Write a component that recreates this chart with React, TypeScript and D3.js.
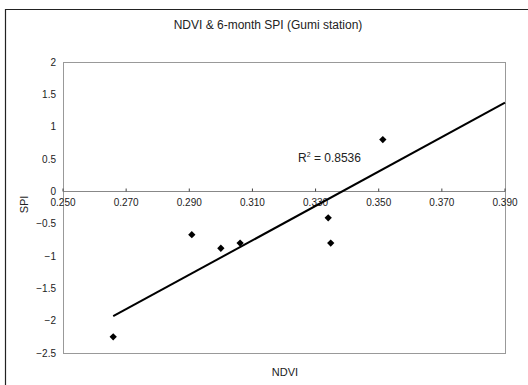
import { useRef, useEffect } from 'react'
import * as d3 from 'd3'

// NDVI vs 6-month SPI, Gumi station
const ndvi = [0.2659, 0.2908, 0.300, 0.3061, 0.334, 0.3348, 0.3513]
const spi = [-2.25, -0.67, -0.88, -0.80, -0.41, -0.80, 0.80]
const xTicks = [0.25, 0.27, 0.29, 0.31, 0.33, 0.35, 0.37, 0.39]
const yTicks = [2, 1.5, 1, 0.5, 0, -0.5, -1, -1.5, -2, -2.5]
// linear trendline as shown in the figure
const trendSlope = 26.6
const trendIntercept = -9.004
const rSquared = '0.8536'

const FONT = 'Liberation Sans, Arial, sans-serif'

export default function App() {
  const svgRef = useRef<SVGSVGElement>(null)

  useEffect(() => {
    if (!svgRef.current) return
    const svg = d3.select(svgRef.current)
    svg.selectAll('*').remove()

    const width = 528
    const height = 385
    const plot = { left: 63, right: 505, top: 62, bottom: 353 }

    // outer chart frame
    svg.append('rect').attr('width', width).attr('height', height).attr('fill', '#fff')
    svg.append('path')
      .attr('d', `M5.5,${height} V9.5 H${width}`)
      .attr('fill', 'none').attr('stroke', '#222').attr('stroke-width', 1.2)

    const x = d3.scaleLinear().domain([0.25, 0.39]).range([plot.left, plot.right])
    const y = d3.scaleLinear().domain([-2.5, 2]).range([plot.bottom, plot.top])

    // plot area border
    svg.append('rect')
      .attr('x', plot.left + 0.5).attr('y', plot.top + 0.5)
      .attr('width', plot.right - plot.left).attr('height', plot.bottom - plot.top)
      .attr('fill', 'none').attr('stroke', '#999').attr('stroke-width', 1)

    // title
    svg.append('text')
      .attr('x', 268).attr('y', 29)
      .attr('text-anchor', 'middle')
      .style('font-family', FONT).style('font-size', '12px').style('fill', '#222')
      .text('NDVI & 6-month SPI (Gumi station)')

    // y axis labels
    svg.append('g').selectAll('text')
      .data(yTicks)
      .join('text')
      .attr('x', plot.left - 7)
      .attr('y', d => y(d) + 3.5)
      .attr('text-anchor', 'end')
      .style('font-family', FONT).style('font-size', '10px').style('fill', '#222')
      .text(d => String(d).replace('-', '\u2212'))

    // x axis on zero line
    const y0 = Math.round(y(0)) + 0.5
    svg.append('line')
      .attr('x1', plot.left).attr('x2', plot.right)
      .attr('y1', y0).attr('y2', y0)
      .attr('stroke', '#888').attr('stroke-width', 1)
    svg.append('g').selectAll('line')
      .data(xTicks)
      .join('line')
      .attr('x1', d => x(d)).attr('x2', d => x(d))
      .attr('y1', y0).attr('y2', y0 - 3)
      .attr('stroke', '#444')
    svg.append('g').selectAll('text')
      .data(xTicks)
      .join('text')
      .attr('x', d => x(d))
      .attr('y', y0 + 14)
      .attr('text-anchor', 'middle')
      .style('font-family', FONT).style('font-size', '10px').style('fill', '#222')
      .text(d => d3.format('.3f')(d))

    // axis titles
    svg.append('text')
      .attr('transform', `translate(28,${y0 + 13}) rotate(-90)`)
      .attr('text-anchor', 'middle')
      .style('font-family', FONT).style('font-size', '11px').style('fill', '#222')
      .text('SPI')
    svg.append('text')
      .attr('x', 285).attr('y', 376)
      .attr('text-anchor', 'middle')
      .style('font-family', FONT).style('font-size', '11px').style('fill', '#222')
      .text('NDVI')

    // trendline
    const x0 = d3.min(ndvi)!
    const x1 = 0.39
    svg.append('line')
      .attr('x1', x(x0)).attr('y1', y(trendSlope * x0 + trendIntercept))
      .attr('x2', x(x1)).attr('y2', y(trendSlope * x1 + trendIntercept))
      .attr('stroke', '#000').attr('stroke-width', 2)

    // points
    svg.append('g').selectAll('path')
      .data(ndvi.map((v, i) => ({ x: v, y: spi[i] })))
      .join('path')
      .attr('transform', d => `translate(${x(d.x)},${y(d.y)})`)
      .attr('d', d3.symbol(d3.symbolDiamond2, 34)())
      .attr('fill', '#000')

    // R squared label
    const r = svg.append('text')
      .attr('x', 298).attr('y', 162)
      .style('font-family', FONT).style('font-size', '12px').style('fill', '#222')
    r.append('tspan').text('R')
    r.append('tspan').attr('dy', -5).style('font-size', '7px').text('2')
    r.append('tspan').attr('dy', 5).text(` = ${rSquared}`)
  }, [])

  return (
    <svg
      ref={svgRef}
      width={528}
      height={385}
      style={{ position: 'absolute', left: 0, top: 0 }}
    />
  )
}
